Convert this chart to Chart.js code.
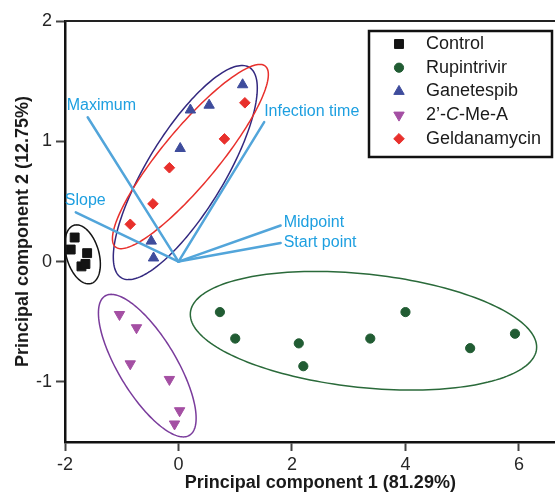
<!DOCTYPE html>
<html>
<head>
<meta charset="utf-8">
<script src="https://cdn.jsdelivr.net/npm/chart.js@4.4.1/dist/chart.umd.min.js"></script>
<style>
  html, body { margin: 0; padding: 0; background: #fff; overflow: hidden; }
  #wrap { width: 555px; height: 494px; overflow: hidden; }
</style>
</head>
<body>
<div id="wrap"><canvas id="pca" width="583" height="494"></canvas></div>
<script>
// ── Datos (PC1, PC2) ──────────────────────────────────────────
const controlPts     = [[-1.83, 0.20], [-1.90, 0.10], [-1.61, 0.07], [-1.71, -0.04], [-1.64, -0.02]];
const rupintrivirPts = [[0.73, -0.42], [1.00, -0.64], [2.12, -0.68], [2.20, -0.87], [3.38, -0.64],
                        [4.00, -0.42], [5.14, -0.72], [5.93, -0.60]];
const ganetespibPts  = [[1.13, 1.47], [0.54, 1.30], [0.21, 1.26], [0.03, 0.94], [-0.48, 0.17], [-0.44, 0.03]];
const cMeAPts        = [[-1.04, -0.44], [-0.74, -0.55], [-0.85, -0.85], [-0.16, -0.98], [0.02, -1.24], [-0.07, -1.35]];
const geldanaPts     = [[1.17, 1.32], [0.81, 1.02], [-0.16, 0.78], [-0.45, 0.48], [-0.85, 0.31]];

const groupNames = ['Control', 'Rupintrivir', 'Ganetespib', '2’-C-Me-A', 'Geldanamycin'];

// vectores de carga (desde el origen)
const loadingNames = ['Maximum', 'Slope', 'Infection time', 'Midpoint', 'Start point'];
const loadingEnds  = [[-1.60, 1.20], [-1.81, 0.41], [1.51, 1.16], [1.80, 0.30], [1.80, 0.155]];

// elipses de confianza: centro, semieje mayor, semieje menor (unidades de datos)
const ellipseCenters = [[-1.69, 0.06], [3.26, -0.575], [0.12, 0.74], [-0.55, -0.865], [0.21, 0.873]];
const ellipseMajor   = [[0.15, -0.242], [3.05, -0.152], [1.13, 0.874], [0.744, -0.579], [1.322, 0.751]];
const ellipseMinor   = [[0.275, 0.039], [-0.104, -0.469], [0.577, -0.169], [0.433, 0.126], [0.374, -0.150]];

const xTickValues = [-2, 0, 2, 4, 6];
const yTickValues = [-1, 0, 1, 2];

// ── Estilos ───────────────────────────────────────────────────
const FONT = '"Liberation Sans", Arial, sans-serif';
const pointColors   = ['#141414', '#215c33', '#3e4c9c', '#a44fa3', '#e8302c'];
const pointStyles   = ['rect', 'circle', 'triangle', 'triangle', 'rectRot'];
const pointRots     = [0, 0, 0, 180, 0];
const pointSizes    = [6.3, 4.6, 6.0, 6.0, 5.3];
const ellipseColors = ['#141414', '#2a6a3a', '#33287f', '#7a3c9c', '#e8302c'];
const vectorColor   = '#52a5da';
const vectorText    = '#1d9fe0';
const labelOffsets  = [[-21, -12], [-11, -12], [0, -10.5], [3, -3], [3, 0]];

const toXY = arr => arr.map(([x, y]) => ({ x, y }));
const groups = [controlPts, rupintrivirPts, ganetespibPts, cMeAPts, geldanaPts];

// ── Plugins ───────────────────────────────────────────────────
const biplotPlugin = {
  id: 'biplot',
  beforeDatasetsDraw(chart) {
    const { ctx, scales: { x, y }, chartArea } = chart;
    ctx.save();
    // borde superior
    ctx.strokeStyle = '#222';
    ctx.lineWidth = 2;
    ctx.beginPath();
    ctx.moveTo(chartArea.left, chartArea.top);
    ctx.lineTo(chartArea.right, chartArea.top);
    ctx.stroke();

    // elipses
    ctx.lineWidth = 1.5;
    ellipseCenters.forEach((c, i) => {
      const a = ellipseMajor[i], b = ellipseMinor[i];
      ctx.strokeStyle = ellipseColors[i];
      ctx.beginPath();
      for (let k = 0; k <= 180; k++) {
        const t = k / 180 * Math.PI * 2;
        const vx = c[0] + Math.cos(t) * a[0] + Math.sin(t) * b[0];
        const vy = c[1] + Math.cos(t) * a[1] + Math.sin(t) * b[1];
        const px = x.getPixelForValue(vx), py = y.getPixelForValue(vy);
        if (k === 0) ctx.moveTo(px, py); else ctx.lineTo(px, py);
      }
      ctx.closePath();
      ctx.stroke();
    });

    // vectores
    const ox = x.getPixelForValue(0), oy = y.getPixelForValue(0);
    ctx.strokeStyle = vectorColor;
    ctx.lineWidth = 2.5;
    ctx.lineCap = 'round';
    ctx.font = '16px ' + FONT;
    ctx.fillStyle = vectorText;
    ctx.textBaseline = 'middle';
    ctx.textAlign = 'left';
    loadingEnds.forEach((e, i) => {
      const ex = x.getPixelForValue(e[0]), ey = y.getPixelForValue(e[1]);
      ctx.beginPath();
      ctx.moveTo(ox, oy);
      ctx.lineTo(ex, ey);
      ctx.stroke();
      ctx.fillText(loadingNames[i], ex + labelOffsets[i][0], ey + labelOffsets[i][1]);
    });
    ctx.restore();
  },
  afterDraw(chart) {
    const { ctx, chartArea } = chart;
    const L = chartArea.left + 304, T = chartArea.top + 10, W = 183, H = 126;
    ctx.save();
    ctx.fillStyle = '#fff';
    ctx.fillRect(L, T, W, H);
    ctx.strokeStyle = '#111';
    ctx.lineWidth = 2.5;
    ctx.strokeRect(L, T, W, H);
    ctx.textBaseline = 'middle';
    ctx.textAlign = 'left';
    groupNames.forEach((name, i) => {
      const cy = T + 13 + i * 23.7;
      ctx.fillStyle = pointColors[i];
      ctx.strokeStyle = pointColors[i];
      ctx.lineWidth = 1;
      Chart.helpers.drawPoint(ctx, {
        pointStyle: pointStyles[i], radius: pointSizes[i], rotation: pointRots[i], borderWidth: 1
      }, L + 30, cy);
      ctx.fillStyle = '#1a1a1a';
      ctx.font = '18px ' + FONT;
      let tx = L + 57;
      if (name.includes('-C-')) {
        const [pre, post] = name.split('C');
        ctx.fillText(pre, tx, cy); tx += ctx.measureText(pre).width;
        ctx.font = 'italic 18px ' + FONT;
        ctx.fillText('C', tx, cy); tx += ctx.measureText('C').width;
        ctx.font = '18px ' + FONT;
        ctx.fillText(post, tx, cy);
      } else {
        ctx.fillText(name, tx, cy);
      }
    });
    ctx.restore();
  }
};

// ── Gráfico ───────────────────────────────────────────────────
const axisCommon = {
  border: { display: true, color: '#111', width: 2.5 },
  grid: { display: true, drawOnChartArea: false, drawTicks: true, tickLength: 9, tickWidth: 2, tickColor: '#444' },
  ticks: { font: { family: FONT, size: 18 }, color: '#262626', padding: 4, includeBounds: false },
  title: { display: true, font: { family: FONT, size: 18, weight: 'bold' }, color: '#1a1a1a' }
};

new Chart(document.getElementById('pca').getContext('2d'), {
  type: 'scatter',
  data: {
    datasets: groups.map((pts, i) => ({
      label: groupNames[i],
      data: toXY(pts),
      pointStyle: pointStyles[i],
      rotation: pointRots[i],
      pointRadius: pointSizes[i],
      pointHoverRadius: pointSizes[i],
      backgroundColor: pointColors[i],
      borderColor: pointColors[i],
      borderWidth: 1
    }))
  },
  options: {
    responsive: false,
    animation: false,
    devicePixelRatio: 1,
    layout: { padding: { top: 21, left: 0, right: 0, bottom: 0 } },
    plugins: { legend: { display: false }, tooltip: { enabled: false } },
    scales: {
      x: {
        ...axisCommon,
        min: -2, max: 7,
        ticks: { ...axisCommon.ticks, padding: 3 },
        afterBuildTicks: s => { s.ticks = xTickValues.map(v => ({ value: v })); },
        afterFit: s => { s.height = 52; },
        title: { ...axisCommon.title, text: 'Principal component 1 (81.29%)', padding: { top: 0, bottom: 0 } }
      },
      y: {
        ...axisCommon,
        min: -1.5, max: 2,
        ticks: { ...axisCommon.ticks, padding: 4 },
        afterBuildTicks: s => { s.ticks = yTickValues.map(v => ({ value: v })); },
        afterFit: s => { s.width = 65; },
        title: { ...axisCommon.title, text: 'Principal component 2 (12.75%)', padding: { top: 12, bottom: 0 } }
      }
    }
  },
  plugins: [biplotPlugin]
});
</script>
</body>
</html>
